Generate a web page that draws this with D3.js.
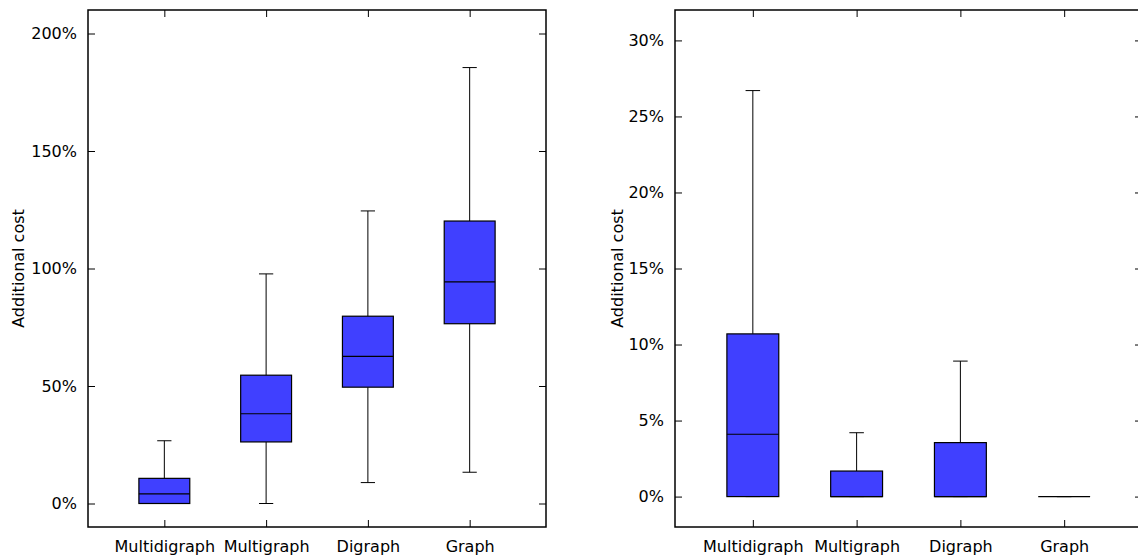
<!DOCTYPE html>
<html>
<head>
<meta charset="utf-8">
<script src="https://cdn.jsdelivr.net/npm/d3@7"></script>
<style>
  html, body { margin: 0; padding: 0; background: #fff; }
  svg { display: block; }
  text { font-family: "DejaVu Sans", sans-serif; fill: #000; }
</style>
</head>
<body>
<svg id="chart" width="1138" height="558"></svg>
<script>
// Graph classes compared in both panels
const categories = ["Multidigraph", "Multigraph", "Digraph", "Graph"];

// Left panel: additional cost distribution (fractions)
const leftMin    = [0.000, 0.000, 0.089, 0.133];
const leftQ1     = [0.000, 0.262, 0.495, 0.765];
const leftMedian = [0.041, 0.382, 0.626, 0.943];
const leftQ3     = [0.107, 0.546, 0.797, 1.202];
const leftMax    = [0.267, 0.977, 1.245, 1.855];
const leftTicks  = [0, 0.5, 1.0, 1.5, 2.0];

// Right panel: additional cost distribution (fractions)
const rightMin    = [0.000, 0.000, 0.000, 0.000];
const rightQ1     = [0.000, 0.000, 0.000, 0.000];
const rightMedian = [0.041, 0.000, 0.000, 0.000];
const rightQ3     = [0.107, 0.0168, 0.0355, 0.000];
const rightMax    = [0.267, 0.042, 0.0891, 0.000];
const rightTicks  = [0, 0.05, 0.10, 0.15, 0.20, 0.25, 0.30];

const yLabel = "Additional cost";

const svg = d3.select("#chart");
const fmt = d3.format(".0%");
const fontSize = "16px";

function buildRows(mins, q1s, meds, q3s, maxs) {
  return categories.map((c, i) => ({
    name: c, pos: i + 1,
    min: mins[i], q1: q1s[i], med: meds[i], q3: q3s[i], max: maxs[i]
  }));
}

function drawPanel(cfg) {
  const { left, right, top, bottom, yDomain, ticks, rows, labelX } = cfg;
  const g = svg.append("g");
  const x = d3.scaleLinear().domain([0.25, 4.75]).range([left, right]);
  const y = d3.scaleLinear().domain(yDomain).range([bottom, top]);
  const tickLen = 7;
  const boxW = 0.5, capW = 0.14;

  // y axis ticks (inward) and labels, mirrored on the right edge
  const yAxisL = d3.axisLeft(y).tickValues(ticks).tickFormat(fmt)
    .tickSizeInner(-tickLen).tickSizeOuter(0).tickPadding(11);
  const ya = g.append("g").attr("transform", `translate(${left},0)`).call(yAxisL);
  ya.select(".domain").remove();
  ya.selectAll("line").attr("stroke", "#000").attr("stroke-width", 1);
  ya.selectAll("text").style("font-size", fontSize).attr("fill", "#000");

  const yAxisR = d3.axisRight(y).tickValues(ticks).tickFormat("")
    .tickSizeInner(-tickLen).tickSizeOuter(0);
  const yr = g.append("g").attr("transform", `translate(${right},0)`).call(yAxisR);
  yr.select(".domain").remove();
  yr.selectAll("line").attr("stroke", "#000").attr("stroke-width", 1);

  // x axis: category ticks at bottom (with labels) and top
  const xAxisB = d3.axisBottom(x).tickValues(rows.map(d => d.pos))
    .tickFormat((d, i) => categories[i])
    .tickSizeInner(-tickLen).tickSizeOuter(0).tickPadding(14);
  const xb = g.append("g").attr("transform", `translate(0,${bottom})`).call(xAxisB);
  xb.select(".domain").remove();
  xb.selectAll("line").attr("stroke", "#000").attr("stroke-width", 1);
  xb.selectAll("text").style("font-size", fontSize).attr("fill", "#000");

  const xAxisT = d3.axisTop(x).tickValues(rows.map(d => d.pos)).tickFormat("")
    .tickSizeInner(-tickLen).tickSizeOuter(0);
  const xt = g.append("g").attr("transform", `translate(0,${top})`).call(xAxisT);
  xt.select(".domain").remove();
  xt.selectAll("line").attr("stroke", "#000").attr("stroke-width", 1);

  // boxes
  const b = g.selectAll(".box").data(rows).enter().append("g").attr("class", "box");
  // whiskers
  b.append("line")
    .attr("x1", d => x(d.pos)).attr("x2", d => x(d.pos))
    .attr("y1", d => y(d.max)).attr("y2", d => y(d.q3))
    .attr("stroke", "#000").attr("stroke-width", 1);
  b.append("line")
    .attr("x1", d => x(d.pos)).attr("x2", d => x(d.pos))
    .attr("y1", d => y(d.q1)).attr("y2", d => y(d.min))
    .attr("stroke", "#000").attr("stroke-width", 1);
  // whisker caps
  b.append("line")
    .attr("x1", d => x(d.pos - capW / 2)).attr("x2", d => x(d.pos + capW / 2))
    .attr("y1", d => y(d.max)).attr("y2", d => y(d.max))
    .attr("stroke", "#000").attr("stroke-width", 1);
  b.append("line")
    .attr("x1", d => x(d.pos - capW / 2)).attr("x2", d => x(d.pos + capW / 2))
    .attr("y1", d => y(d.min)).attr("y2", d => y(d.min))
    .attr("stroke", "#000").attr("stroke-width", 1);
  // interquartile box
  b.append("rect")
    .attr("x", d => x(d.pos - boxW / 2))
    .attr("width", d => x(d.pos + boxW / 2) - x(d.pos - boxW / 2))
    .attr("y", d => y(d.q3))
    .attr("height", d => y(d.q1) - y(d.q3))
    .attr("fill", "#4040ff").attr("stroke", "#000").attr("stroke-width", 1.2);
  // median
  b.append("line")
    .attr("x1", d => x(d.pos - boxW / 2)).attr("x2", d => x(d.pos + boxW / 2))
    .attr("y1", d => y(d.med)).attr("y2", d => y(d.med))
    .attr("stroke", "#000").attr("stroke-width", 1.2);

  // frame
  g.append("rect")
    .attr("x", left).attr("y", top)
    .attr("width", right - left).attr("height", bottom - top)
    .attr("fill", "none").attr("stroke", "#000").attr("stroke-width", 1.5);

  // y axis title
  g.append("text")
    .attr("transform", `translate(${labelX},${(top + bottom) / 2}) rotate(-90)`)
    .attr("text-anchor", "middle")
    .style("font-size", fontSize)
    .text(yLabel);
}

drawPanel({
  left: 88, right: 546, top: 10, bottom: 527,
  yDomain: [-0.1, 2.1], ticks: leftTicks, labelX: 24,
  rows: buildRows(leftMin, leftQ1, leftMedian, leftQ3, leftMax)
});

drawPanel({
  left: 675, right: 1142, top: 10, bottom: 527,
  yDomain: [-0.02, 0.32], ticks: rightTicks, labelX: 623,
  rows: buildRows(rightMin, rightQ1, rightMedian, rightQ3, rightMax)
});
</script>
</body>
</html>
